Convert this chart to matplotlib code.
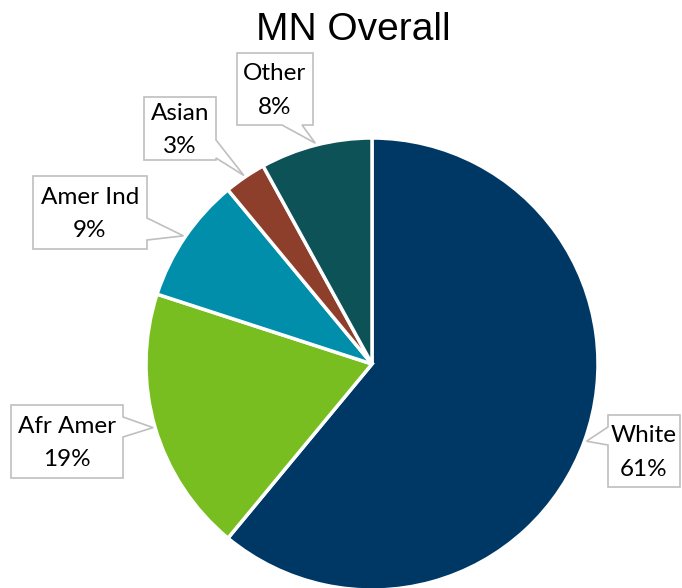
import matplotlib
matplotlib.use("Agg")
import matplotlib.pyplot as plt
import numpy as np
from matplotlib.patches import Polygon

# ---- data ----
categories = ["White", "Afr Amer", "Amer Ind", "Asian", "Other"]
values = [61, 19, 9, 3, 8]
colors = ["#003865", "#78BE20", "#008EAA", "#8D3F2B", "#0D5257"]
title = "MN Overall"

W, H = 682, 588
fig = plt.figure(figsize=(W / 100, H / 100), dpi=100)
ax = fig.add_axes([0, 0, 1, 1])

cx, cy, R = 372, 364, 226  # pixel coords (top-left origin)

def Y(y):
    return H - y

ax.pie(values, colors=colors, startangle=90, counterclock=False,
       center=(cx, Y(cy)), radius=R,
       wedgeprops=dict(edgecolor="white", linewidth=2.5))
ax.set_xlim(0, W)
ax.set_ylim(0, H)
ax.set_aspect("equal")
ax.axis("off")

# callout layouts: box (x0, y0, x1, y1), side, tail base (a, b)
layout = {
    "White":    ((608, 415, 680, 487), "left",   (427, 445)),
    "Afr Amer": ((11, 405, 123, 478),  "right",  (417, 437)),
    "Amer Ind": ((33, 176, 147, 249),  "right",  (218, 240)),
    "Asian":    ((144, 97, 216, 160),  "right",  (140, 158)),
    "Other":    ((237, 53, 313, 125),  "bottom", (282, 302)),
}

total = sum(values)
cum = 0
font = "Lato"
for cat, v in zip(categories, values):
    mid = np.deg2rad(90 - 360 * (cum + v / 2) / total)
    cum += v
    tx = cx + 228 * np.cos(mid)
    ty = cy - 228 * np.sin(mid)
    (x0, y0, x1, y1), side, (a, b) = layout[cat]
    pts = [(x0, y0), (x1, y0)]
    if side == "right":
        pts += [(x1, a), (tx, ty), (x1, b)]
    pts += [(x1, y1)]
    if side == "bottom":
        pts += [(b, y1), (tx, ty), (a, y1)]
    pts += [(x0, y1)]
    if side == "left":
        pts += [(x0, b), (tx, ty), (x0, a)]
    poly = Polygon([(px, Y(py)) for px, py in pts], closed=True,
                   facecolor="white", edgecolor="#BFBFBF", linewidth=1.2,
                   zorder=5)
    ax.add_patch(poly)
    xc = (x0 + x1) / 2
    yc = (y0 + y1) / 2
    ax.text(xc, Y(yc - 15), cat, ha="center", va="center", fontsize=17.5,
            family=font, color="#000000", zorder=6)
    ax.text(xc, Y(yc + 18), f"{v}%", ha="center", va="center", fontsize=17.5,
            family=font, color="#000000", zorder=6)

ax.text(353, Y(30), title, ha="center", va="center", fontsize=28,
        family="Liberation Sans", color="#000000")

fig.savefig("out.png", dpi=100)
